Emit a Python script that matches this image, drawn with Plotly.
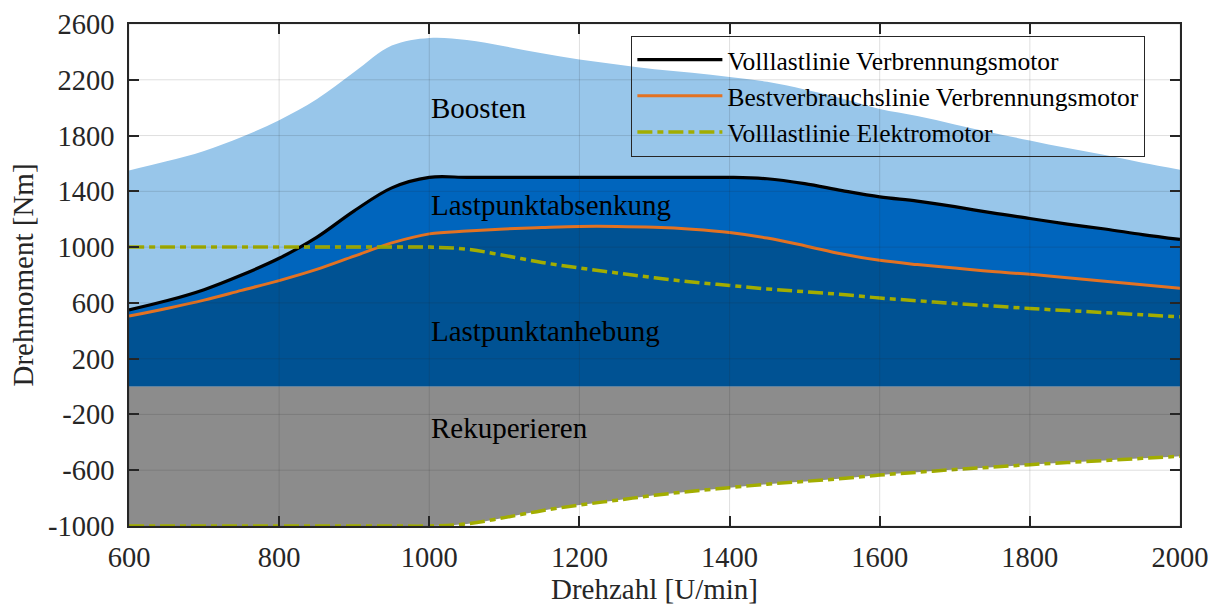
import plotly.graph_objects as go

# ---- data ----
rpm = [600, 650, 700, 750, 800, 850, 900, 950, 1000, 1050, 1100, 1150, 1200, 1250, 1300,
       1350, 1400, 1450, 1500, 1550, 1600, 1650, 1700, 1750, 1800, 1850, 1900, 1950, 2000]

boost = [1550, 1615, 1690, 1790, 1910, 2060, 2255, 2445, 2500, 2485, 2440, 2390, 2345, 2310, 2275,
         2250, 2220, 2185, 2130, 2065, 1990, 1940, 1880, 1820, 1765, 1710, 1660, 1605, 1555]

ice_full = [550, 615, 695, 800, 920, 1070, 1260, 1425, 1500, 1500, 1500, 1500, 1500, 1500, 1500,
            1500, 1500, 1490, 1455, 1405, 1360, 1330, 1290, 1245, 1205, 1165, 1130, 1090, 1055]

best_cons = [505, 560, 620, 690, 760, 840, 935, 1030, 1095, 1115, 1130, 1140, 1148, 1148, 1142,
             1128, 1105, 1065, 1010, 950, 905, 875, 850, 825, 805, 780, 755, 730, 705]

em_full = [1000, 1000, 1000, 1000, 1000, 1000, 1000, 1000, 1000, 985, 940, 890, 850, 815, 780,
           750, 725, 700, 680, 660, 635, 615, 595, 578, 560, 545, 530, 515, 500]

em_recup = [-v for v in em_full]

x_ticks = [600, 800, 1000, 1200, 1400, 1600, 1800, 2000]
y_ticks = [-1000, -600, -200, 200, 600, 1000, 1400, 1800, 2200, 2600]

region_labels = ["Boosten", "Lastpunktabsenkung", "Lastpunktanhebung", "Rekuperieren"]
region_y = [2000, 1300, 400, -300]
region_x = 1000

legend_names = ["Volllastlinie Verbrennungsmotor",
                "Bestverbrauchslinie Verbrennungsmotor",
                "Volllastlinie Elektromotor"]

# ---- colours ----
C_LIGHT = "#98C6EA"
C_MED = "#0065BD"
C_DARK = "#005293"
C_GRAY = "#8c8c8c"
C_ORANGE = "#E37222"
C_GREEN = "#A2AD00"
AX = "#262626"
FONT = "Liberation Serif"

fig = go.Figure()

sm = 1.0
for yv, col in [(boost, C_LIGHT), (ice_full, C_MED), (best_cons, C_DARK), (em_recup, C_GRAY)]:
    fig.add_trace(go.Scatter(x=rpm, y=yv, mode="lines", fill="tozeroy", fillcolor=col,
                             line=dict(width=0, color=col, shape="spline", smoothing=sm),
                             showlegend=False, hoverinfo="skip"))

DASH = "15px,5px,6px,5px"
fig.add_trace(go.Scatter(x=rpm, y=ice_full, mode="lines", name=legend_names[0],
                         line=dict(color="black", width=3.2, shape="spline", smoothing=sm)))
fig.add_trace(go.Scatter(x=rpm, y=best_cons, mode="lines", name=legend_names[1],
                         line=dict(color=C_ORANGE, width=3, shape="spline", smoothing=sm)))
fig.add_trace(go.Scatter(x=rpm, y=em_full, mode="lines", name=legend_names[2],
                         line=dict(color=C_GREEN, width=3.5, dash=DASH,
                                   shape="spline", smoothing=sm)))
fig.add_trace(go.Scatter(x=rpm, y=em_recup, mode="lines", showlegend=False,
                         line=dict(color=C_GREEN, width=3.5, dash=DASH,
                                   shape="spline", smoothing=sm)))

for lab, yy in zip(region_labels, region_y):
    fig.add_annotation(x=region_x, y=yy, text=lab, showarrow=False, xanchor="left",
                       yanchor="middle",
                       font=dict(family=FONT, size=29, color="black"))

# grid drawn on top of the areas (MATLAB layer 'top')
grid = dict(color="rgba(38,38,38,0.15)", width=1)
for xv in x_ticks:
    fig.add_shape(type="line", xref="x", yref="paper", x0=xv, x1=xv, y0=0, y1=1,
                  line=grid, layer="above")
for yv in y_ticks:
    fig.add_shape(type="line", xref="paper", yref="y", x0=0, x1=1, y0=yv, y1=yv,
                  line=grid, layer="above")

axis_common = dict(showline=True, linecolor=AX, linewidth=1.5, mirror="ticks",
                   ticks="inside", ticklen=10, tickwidth=1.5, tickcolor=AX,
                   showgrid=False, zeroline=False, layer="above traces", automargin=False,
                   tickfont=dict(family=FONT, size=28.5, color=AX))

fig.update_xaxes(range=[600, 2000], tickvals=x_ticks, ticktext=[str(v) for v in x_ticks],
                 ticklabelstandoff=5,
                 title=dict(text="Drehzahl [U/min]", font=dict(family=FONT, size=29, color=AX),
                            standoff=8), **axis_common)
fig.update_yaxes(range=[-1000, 2600], tickvals=y_ticks, ticktext=[str(v) for v in y_ticks],
                 ticklabelstandoff=7,
                 title=dict(text="Drehmoment [Nm]", font=dict(family=FONT, size=29, color=AX),
                            standoff=6), **axis_common)

fig.update_layout(
    width=1215, height=605,
    margin=dict(l=129, r=35, t=24, b=79),
    paper_bgcolor="white", plot_bgcolor="white",
    font=dict(family=FONT, size=26, color=AX),
    legend=dict(x=0.478, y=0.977, xanchor="left", yanchor="top",
                bgcolor="rgba(0,0,0,0)", bordercolor=AX, borderwidth=1,
                font=dict(family=FONT, size=25.5, color="black"),
                itemwidth=85, tracegroupgap=0),
    showlegend=True,
)

fig.write_html("out.html")
